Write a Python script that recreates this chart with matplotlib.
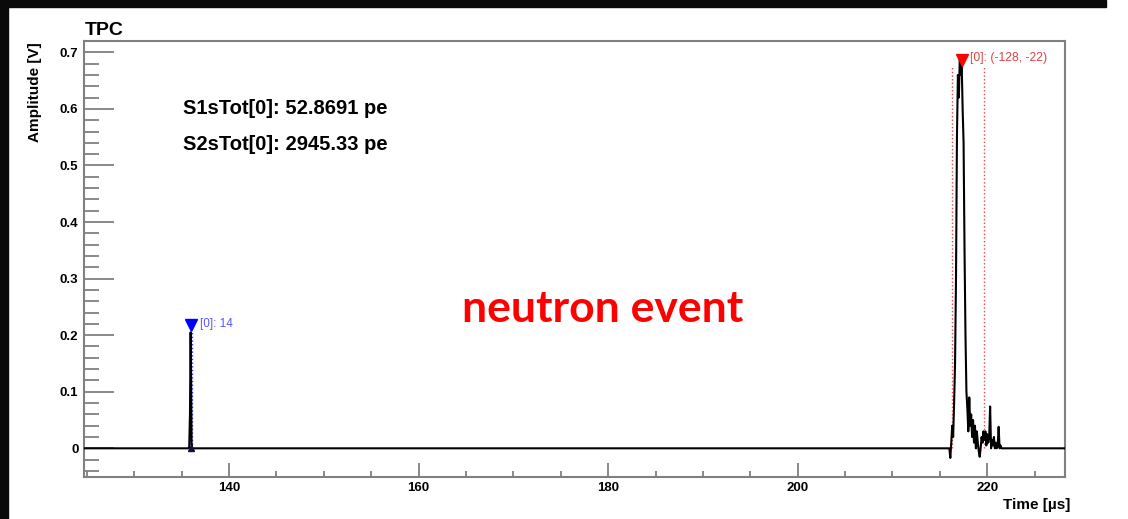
import numpy as np
import matplotlib.pyplot as plt
from matplotlib.patches import Rectangle
from matplotlib.ticker import MultipleLocator, FuncFormatter

plt.rcParams['font.family'] = ['Liberation Sans', 'DejaVu Sans']

# waveform samples (time in us, amplitude in V)
s1_t = [135.70, 135.80, 135.88, 135.95, 136.00, 136.05, 136.12, 136.20]
s1_v = [0.000, 0.002, 0.060, 0.205, 0.120, 0.010, -0.004, 0.000]

s2_t = [216.0, 216.1, 216.2, 216.3, 216.4, 216.5, 216.6, 216.7, 216.8, 216.9,
        217.0, 217.1, 217.2, 217.3, 217.4, 217.5, 217.6, 217.7, 217.8, 217.9,
        218.0, 218.1, 218.2, 218.3, 218.4, 218.5, 218.6, 218.7, 218.8, 218.9,
        219.0, 219.1, 219.2, 219.3, 219.4, 219.5, 219.6, 219.7, 219.8, 219.9,
        220.0, 220.1, 220.2, 220.3, 220.4, 220.5, 220.6, 220.7, 220.8, 220.9,
        221.0, 221.1, 221.2, 221.3, 221.4, 221.5]
s2_v = [0.000, -0.017, 0.010, 0.040, 0.020, 0.080, 0.150, 0.300, 0.550, 0.660,
        0.620, 0.690, 0.660, 0.680, 0.600, 0.540, 0.350, 0.200, 0.100, 0.070,
        0.030, 0.090, 0.040, 0.060, 0.020, 0.050, 0.010, 0.040, 0.000, 0.030,
        0.010, -0.005, -0.015, 0.000, 0.020, 0.010, 0.030, 0.015, 0.030, 0.005,
        0.025, 0.010, 0.020, 0.074, 0.000, 0.015, 0.005, 0.020, 0.000, 0.010,
        0.000, 0.005, 0.038, 0.000, 0.005, 0.000]

t_min, t_max = 124.7, 228.2

# found peaks: position, marker height, integration window
s1_peak = (135.96, 0.218)
s1_window = (135.88, 136.05)
s2_peak = (217.3, 0.686)
s2_window = (216.3, 219.7)
s1_label = "[0]: 14"
s2_label = "[0]: (-128, -22)"

s1_tot = 52.8691
s2_tot = 2945.33

trace_t = [t_min] + s1_t + s2_t + [t_max]
trace_v = [0.0] + s1_v + s2_v + [0.0]

W, H = 1128, 519
fig = plt.figure(figsize=(W / 100, H / 100), dpi=100)
fig.patch.set_facecolor('white')
fig.add_artist(Rectangle((0, 1 - 7 / H), 1106 / W, 7 / H, transform=fig.transFigure,
                         color='#0a0a0a', zorder=0))
fig.add_artist(Rectangle((0, 0), 8 / W, 1, transform=fig.transFigure,
                         color='#0a0a0a', zorder=0))

ax = fig.add_axes([84 / W, 1 - 477 / H, (1065 - 84) / W, (477 - 41) / H])
ax.set_xlim(t_min, t_max)
ax.set_ylim(-0.0507, 0.72)

# integration windows
for x in s1_window:
    ax.plot([x, x], [0, s1_peak[1] - 0.01], ls=':', color='#3030ff', lw=1.0)
for x in s2_window:
    ax.plot([x, x], [0, s2_peak[1] - 0.01], ls=':', color='#ee4444', lw=1.0)

ax.plot(trace_t, trace_v, color='black', lw=1.5, zorder=3)

ax.plot(*s1_peak, marker='v', color='blue', ms=9, zorder=4)
ax.plot(s1_peak[0], 0.0, marker='^', color='#101040', ms=5, zorder=4)
ax.plot(*s2_peak, marker='v', color='red', ms=9, zorder=4)
ax.text(s1_peak[0] + 1.0, s1_peak[1] + 0.002, s1_label, color='#5555ff',
        fontsize=8.5, va='center')
ax.text(s2_peak[0] + 0.9, s2_peak[1] + 0.004, s2_label, color='#dd4444',
        fontsize=8.8, va='center')

for sp in ax.spines.values():
    sp.set_color('#808080')
    sp.set_linewidth(1.5)

ax.xaxis.set_major_locator(MultipleLocator(20))
ax.xaxis.set_minor_locator(MultipleLocator(5))
ax.yaxis.set_major_locator(MultipleLocator(0.1))
ax.yaxis.set_minor_locator(MultipleLocator(0.02))
ax.yaxis.set_major_formatter(FuncFormatter(lambda v, p: '0' if abs(v) < 1e-9 else f'{v:.1f}'))
ax.tick_params(axis='both', which='both', direction='in', color='#808080',
               top=False, right=False, labelsize=9.5)
ax.tick_params(axis='y', which='major', length=21.5, width=1.3, pad=4)
ax.tick_params(axis='y', which='minor', length=11, width=1.3)
ax.tick_params(axis='x', which='major', length=10, width=1.3, pad=3.5)
ax.tick_params(axis='x', which='minor', length=4.5, width=1.3)
for lab in ax.get_xticklabels() + ax.get_yticklabels():
    lab.set_fontweight('bold')

fig.text(85 / W, 1 - 35 / H, "TPC", fontsize=14, fontweight='bold',
         va='baseline', ha='left')
fig.text(35 / W, 1 - 42 / H, "Amplitude [V]", fontsize=11, fontweight='bold',
         rotation=90, ha='center', va='top')
fig.text(1070 / W, 1 - 505 / H, "Time [\u00b5s]", fontsize=11, fontweight='bold',
         ha='right', va='center')

fig.text(183 / W, 1 - 108 / H, f"S1sTot[0]: {s1_tot:g} pe", fontsize=14.5,
         fontweight='bold', va='center')
fig.text(183 / W, 1 - 144 / H, f"S2sTot[0]: {s2_tot:g} pe", fontsize=14.5,
         fontweight='bold', va='center')

fig.text(603 / W, 1 - 309 / H, "neutron event", color='#ff0000', fontsize=32,
         fontweight='bold', family=['Lato', 'DejaVu Sans'], ha='center', va='center')

fig.savefig('out.png', dpi=100)
